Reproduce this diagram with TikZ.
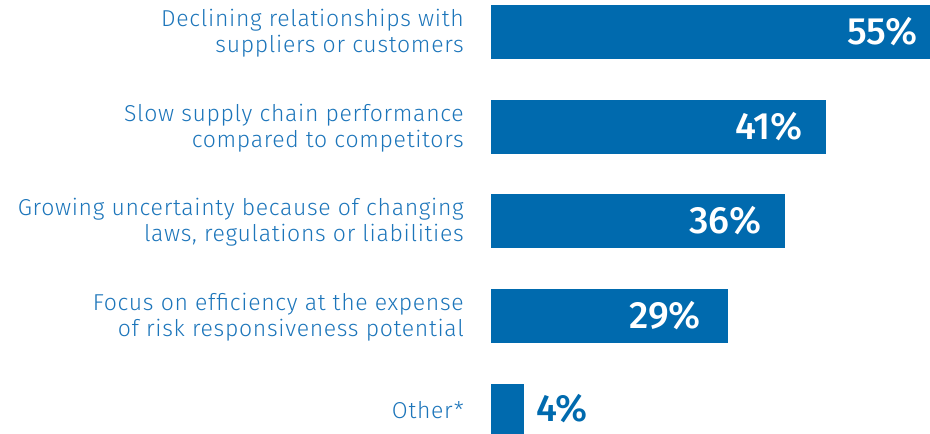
\documentclass[tikz,border=0pt]{standalone}
\usepackage{fontspec}
\setmainfont{Fira Sans Light}[LetterSpace=3]
\newfontfamily\numfont{Fira Sans Medium}
\definecolor{barblue}{HTML}{006AAE}
\definecolor{txtblue}{HTML}{1C75BA}

\begin{document}
\begin{tikzpicture}
	[
	x=1pt, y=-1pt,
	bar/.style={fill=barblue, inner sep=0pt, minimum height=54pt, anchor=west},
	reason/.style={align=right, anchor=east, text=txtblue, inner sep=0pt, font=\fontsize{23}{26}\selectfont},
	share/.style={anchor=east, text=white, inner sep=0pt, font=\numfont\fontsize{38}{38}\selectfont},
	]
		\useasboundingbox (0,0) rectangle (930,434);
		
		% bars
		\node[bar, minimum width=439pt] (b1) at 		(491,  32) {};
		\node[bar, minimum width=335pt] (b2) at 		(491, 127) {};
		\node[bar, minimum width=294pt] (b3) at 		(491, 221) {};
		\node[bar, minimum width=237pt] (b4) at 		(491, 316) {};
		\node[bar, minimum width=33pt, minimum height=50pt] (b5) at 	(491, 409) {};
		
		% shares
		\node[share] (v1) at 		(918,  32) {55\%};
		\node[share] (v2) at 		(803, 127) {41\%};
		\node[share] (v3) at 		(762, 221) {36\%};
		\node[share] (v4) at 		(701, 316) {29\%};
		\node[share, anchor=west, text=barblue] (v5) at 	(536, 409) {4\%};
		
		% reasons
		\node[reason] (r1) at 		(464,  33) {Declining relationships with\\suppliers or customers};
		\node[reason] (r2) at 		(464, 128) {Slow supply chain performance\\compared to competitors};
		\node[reason] (r3) at 		(464, 222) {Growing uncertainty because of changing\\laws, regulations or liabilities};
		\node[reason] (r4) at 		(464, 317) {Focus on efficiency at the expense\\of risk responsiveness potential};
		\node[reason] (r5) at 		(464, 410) {Other*};
		
	\end{tikzpicture}
\end{document}
